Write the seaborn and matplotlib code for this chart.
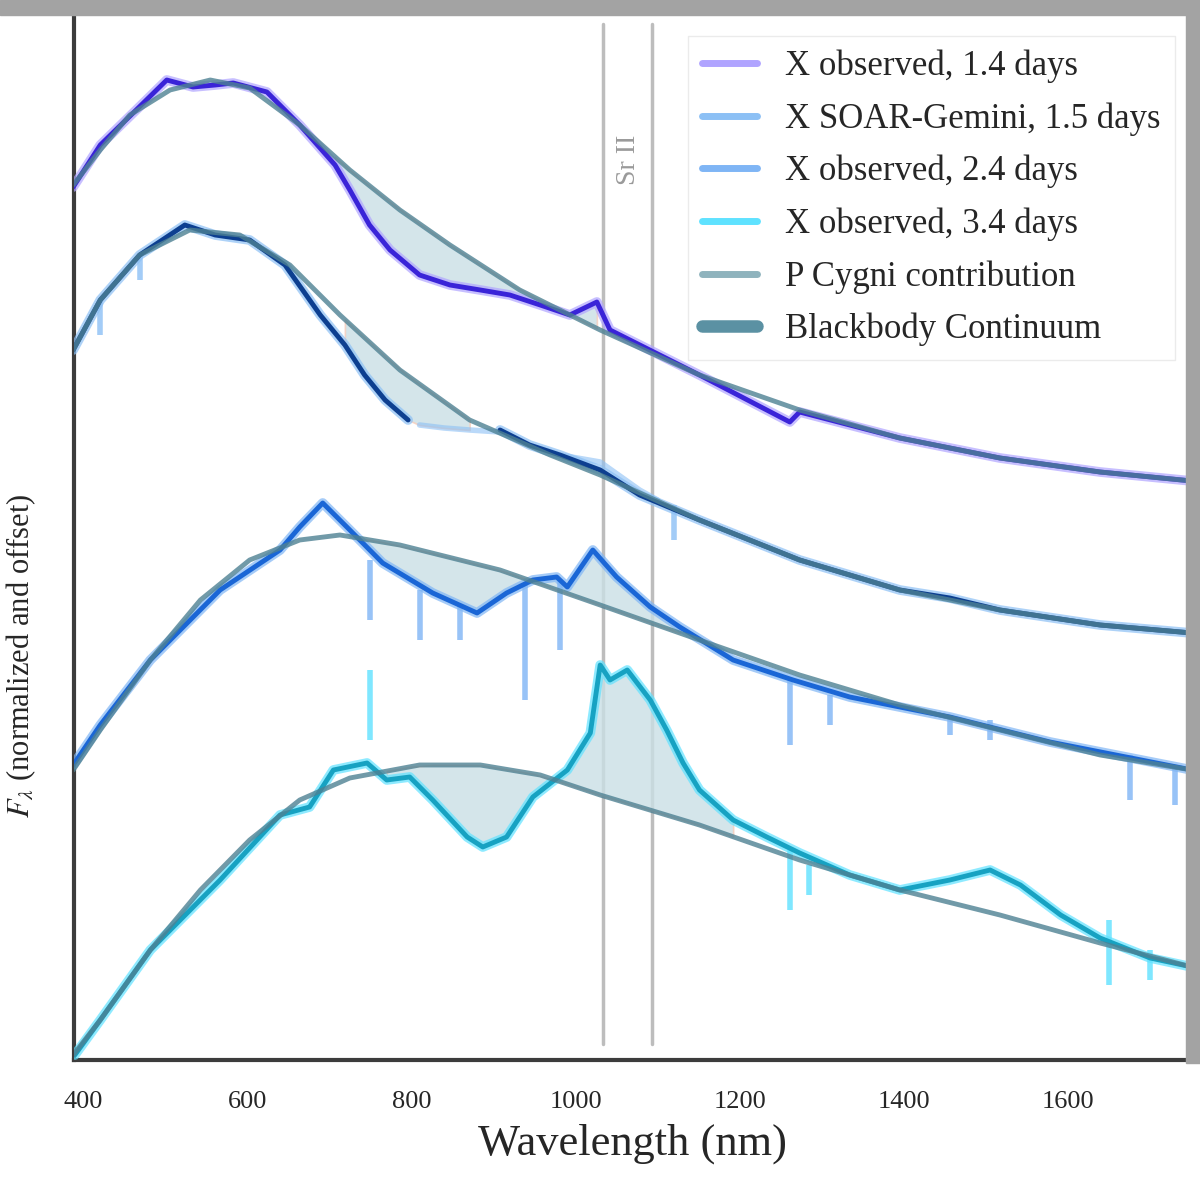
import numpy as np
import pandas as pd
import matplotlib.pyplot as plt
import seaborn as sns
from matplotlib.lines import Line2D
from matplotlib.patches import Rectangle

# ---- data (wavelength in nm, flux normalized + offset) ----
labels = ["X observed, 1.4 days", "X SOAR-Gemini, 1.5 days",
          "X observed, 2.4 days", "X observed, 3.4 days"]

# blackbody continua
bb1_x = [388, 421, 457, 506, 555, 603, 664, 725, 786, 847, 932, 1030, 1151, 1273, 1395, 1517, 1639, 1751]
bb1_y = [8.75, 9.10, 9.45, 9.70, 9.80, 9.72, 9.35, 8.90, 8.50, 8.15, 7.70, 7.30, 6.85, 6.50, 6.22, 6.02, 5.88, 5.79]
bb2_x = [388, 421, 469, 530, 591, 652, 713, 786, 871, 969, 1030, 1151, 1273, 1395, 1517, 1639, 1751]
bb2_y = [7.10, 7.60, 8.05, 8.30, 8.25, 7.95, 7.45, 6.90, 6.40, 6.05, 5.85, 5.40, 5.00, 4.70, 4.50, 4.35, 4.27]
bb3_x = [388, 421, 482, 543, 603, 664, 713, 786, 908, 1030, 1151, 1273, 1395, 1517, 1639, 1751]
bb3_y = [2.90, 3.30, 4.00, 4.60, 5.00, 5.20, 5.25, 5.15, 4.90, 4.55, 4.20, 3.85, 3.55, 3.30, 3.05, 2.90]
bb4_x = [388, 421, 482, 543, 603, 664, 725, 810, 884, 957, 1030, 1151, 1273, 1395, 1517, 1639, 1751]
bb4_y = [0.05, 0.40, 1.10, 1.70, 2.20, 2.60, 2.82, 2.95, 2.95, 2.85, 2.65, 2.35, 2.00, 1.70, 1.45, 1.17, 0.93]

# smoothed observed spectra
obs1_x = [388, 421, 461, 502, 534, 561, 583, 624, 664, 707, 725, 749, 774, 810, 847, 884, 920, 957, 993,
          1026, 1042, 1151, 1261, 1273, 1395, 1517, 1639, 1751]
obs1_y = [8.73, 9.15, 9.47, 9.80, 9.73, 9.75, 9.77, 9.68, 9.35, 8.95, 8.70, 8.35, 8.10, 7.85, 7.75, 7.70, 7.65,
          7.55, 7.45, 7.58, 7.30, 6.85, 6.38, 6.48, 6.22, 6.02, 5.88, 5.79]
obs2a_x = [388, 421, 469, 524, 561, 603, 646, 689, 719, 743, 768, 796]
obs2a_y = [7.10, 7.60, 8.05, 8.35, 8.25, 8.20, 7.95, 7.45, 7.15, 6.85, 6.60, 6.40]
obs2b_x = [908, 944, 981, 1030, 1078, 1151, 1273, 1395, 1456, 1517, 1639, 1751]
obs2b_y = [6.30, 6.15, 6.05, 5.90, 5.65, 5.40, 5.00, 4.70, 4.62, 4.50, 4.35, 4.27]
raw2_x = [810, 840, 871, 908, 944, 981, 1030, 1078, 1100]
raw2_y = [6.35, 6.32, 6.30, 6.28, 6.15, 6.05, 5.98, 5.70, 5.60]
obs3_x = [388, 421, 482, 567, 640, 664, 692, 725, 765, 826, 880, 916, 948, 977, 990, 1021, 1050, 1091,
          1127, 1192, 1265, 1334, 1456, 1578, 1751]
obs3_y = [2.95, 3.35, 4.00, 4.70, 5.10, 5.33, 5.57, 5.30, 4.97, 4.67, 4.47, 4.67, 4.80, 4.83, 4.73, 5.10,
          4.83, 4.53, 4.33, 4.00, 3.80, 3.63, 3.43, 3.18, 2.90]
obs4_x = [390, 421, 482, 567, 640, 676, 705, 746, 770, 798, 826, 868, 887, 916, 948, 990, 1018, 1030, 1042,
          1063, 1091, 1111, 1131, 1151, 1192, 1233, 1273, 1334, 1395, 1456, 1505, 1542, 1591, 1639, 1700, 1751]
obs4_y = [0.05, 0.40, 1.10, 1.80, 2.45, 2.53, 2.90, 2.97, 2.80, 2.83, 2.60, 2.23, 2.13, 2.23, 2.63, 2.90,
          3.27, 3.95, 3.80, 3.90, 3.60, 3.30, 2.97, 2.70, 2.40, 2.23, 2.07, 1.85, 1.70, 1.80, 1.90, 1.75,
          1.45, 1.22, 1.02, 0.93]

# narrow absorption/emission spikes in the raw spectra
spk2_x = [421, 470, 1120]
spk2_lo = [7.25, 7.80, 5.20]
spk2_hi = [7.60, 8.05, 5.55]
spk3_x = [749, 810, 859, 938, 981, 1261, 1310, 1456, 1505, 1676, 1730]
spk3_lo = [4.40, 4.20, 4.20, 3.60, 4.10, 3.15, 3.35, 3.25, 3.20, 2.60, 2.55]
spk3_hi = [5.00, 4.70, 4.55, 4.75, 4.80, 3.82, 3.65, 3.45, 3.40, 3.05, 2.95]
spk4_x = [749, 1261, 1285, 1650, 1700]
spk4_lo = [3.20, 1.50, 1.65, 0.75, 0.80]
spk4_hi = [3.90, 2.10, 1.95, 1.40, 1.10]

# P Cygni shaded ranges (nm)
pcyg_ranges = [(700, 1030), (700, 880), (725, 1150), (760, 1200)]
sr_lines = [1033, 1093]

dark_cols = ["#3a24d8", "#0d3f90", "#1a66d6", "#17a2c2"]
light_cols = ["#b0a4ff", "#8cc0f5", "#7fb5f5", "#5fe2ff"]
bb_col = "#4e8193"
fill_col = "#cadfe5"

sns.set_style("white")
plt.rcParams['font.family'] = ['Liberation Serif', 'DejaVu Serif']
plt.rcParams['mathtext.fontset'] = 'stix'

fig = plt.figure(figsize=(12, 11.88), dpi=100)
ax = fig.add_axes([74 / 1200, 1 - 1060 / 1188, (1192 - 74) / 1200, (1060 - 8) / 1188])

# gray band along top and right edge
fig.patches.append(Rectangle((0, 1 - 15 / 1188), 1, 15 / 1188, transform=fig.transFigure,
                             color="#a3a3a3", zorder=0))
fig.patches.append(Rectangle((1 - 14 / 1200, 1 - 1063 / 1188), 14 / 1200, 1063 / 1188,
                             transform=fig.transFigure, color="#a3a3a3", zorder=0))

for xv in sr_lines:
    ax.axvline(xv, ymin=0.015, ymax=0.985, color="#bdbdbd", lw=2.5, zorder=1)
ax.text(1064, 9.0, "Sr II", rotation=90, ha="center", va="center", fontsize=20, color="#9a9a9a")

bbs = [(bb1_x, bb1_y), (bb2_x, bb2_y), (bb3_x, bb3_y), (bb4_x, bb4_y)]
obs = [[(obs1_x, obs1_y)], [(obs2a_x, obs2a_y), (obs2b_x, obs2b_y)], [(obs3_x, obs3_y)], [(obs4_x, obs4_y)]]
spikes = [None, (spk2_x, spk2_lo, spk2_hi), (spk3_x, spk3_lo, spk3_hi), (spk4_x, spk4_lo, spk4_hi)]

# P Cygni shading between spectrum and continuum
fill_src = [(obs1_x, obs1_y), (obs2a_x + raw2_x, obs2a_y + raw2_y), (obs3_x, obs3_y), (obs4_x, obs4_y)]
for i, (lo, hi) in enumerate(pcyg_ranges):
    ox, oy = np.array(fill_src[i][0], float), np.array(fill_src[i][1], float)
    m = (ox >= lo) & (ox <= hi)
    ax.fill_between(ox[m], oy[m], np.interp(ox[m], bbs[i][0], bbs[i][1]),
                    facecolor=fill_col, edgecolor="#f6cdbb", lw=1.2, alpha=0.8, zorder=2)

# raw (light) spectra
for i in range(4):
    for sx, sy in obs[i]:
        sns.lineplot(x=sx, y=sy, ax=ax, color=light_cols[i], lw=7, alpha=0.7, sort=False,
                     estimator=None, zorder=3)
    if spikes[i] is not None:
        ax.vlines(spikes[i][0], spikes[i][1], spikes[i][2], color=light_cols[i], lw=4, alpha=0.8, zorder=3)
sns.lineplot(x=raw2_x, y=raw2_y, ax=ax, color=light_cols[1], lw=4, alpha=0.6, sort=False,
             estimator=None, zorder=3)

# smoothed spectra
for i in range(4):
    for sx, sy in obs[i]:
        sns.lineplot(x=sx, y=sy, ax=ax, color=dark_cols[i], lw=3.5, sort=False, estimator=None, zorder=4)

# blackbody continua
for bx, by in bbs:
    sns.lineplot(x=bx, y=by, ax=ax, color=bb_col, lw=3.5, alpha=0.8, sort=False, estimator=None, zorder=5)

ax.set_xlim(389, 1751)
ax.set_ylim(0, 10.52)
ax.set_xticks([400, 600, 800, 1000, 1200, 1400, 1600])
ax.set_yticks([])
ax.tick_params(axis="x", labelsize=19, length=4, width=1.5, direction="out", pad=18)
ax.set_xlabel("Wavelength (nm)", fontsize=32, labelpad=8)
ax.set_ylabel(r"$F_\lambda$ (normalized and offset)", fontsize=22)
ax.yaxis.set_label_coords(-0.032, 0.384)

for s in ["left", "bottom"]:
    ax.spines[s].set_color("#3c3c3c")
    ax.spines[s].set_linewidth(3)
for s in ["top", "right"]:
    ax.spines[s].set_color("#a3a3a3")
    ax.spines[s].set_linewidth(3)

handles = [Line2D([], [], color=c, lw=5) for c in light_cols]
handles.append(Line2D([], [], color="#8fb3bd", lw=5))
handles.append(Line2D([], [], color="#5b91a3", lw=9))
ax.legend(handles, labels + ["P Cygni contribution", "Blackbody Continuum"], loc="upper right",
          bbox_to_anchor=(1.0, 0.99), fontsize=25, labelspacing=0.55, handlelength=1.6,
          handletextpad=0.8, frameon=True, edgecolor="#e6e6e6", fancybox=False, borderpad=0.4)

fig.savefig("out.png", dpi=100)
